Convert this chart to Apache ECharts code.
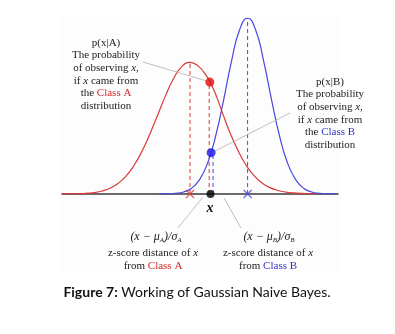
<!DOCTYPE html>
<html><head><meta charset="utf-8">
<script src="https://cdn.jsdelivr.net/npm/echarts@6/dist/echarts.min.js"></script>
<style>html,body{margin:0;padding:0;background:#fff;}#c{width:395px;height:334px;}</style>
</head><body><div id="c"></div>
<script>
// Class A curve p(x|A) samples
var redX = [-4,-3.75,-3.5,-3.25,-3,-2.75,-2.5,-2.25,-2,-1.75,-1.5,-1.25,-1,-0.75,-0.5,-0.25,0,0.25,0.5,0.75,1,1.25,1.5,1.75,2,2.25,2.5,2.75,3,3.25,3.5,3.75,4];
var redY = [0.0003,0.0007,0.0016,0.0038,0.0083,0.0171,0.0328,0.0595,0.1012,0.1618,0.2429,0.3424,0.4537,0.5646,0.6601,0.725,0.748,0.728,0.675,0.59,0.468,0.348,0.247,0.165,0.104,0.063,0.036,0.02,0.011,0.006,0.003,0.0012,0.0005];
// Class B curve p(x|B) samples
var blueX = [-0.95,-0.7,-0.45,-0.2,0.05,0.3,0.55,0.8,1.05,1.3,1.55,1.8,2.05,2.3,2.55,2.8,3.05,3.3,3.55,3.8,4.05,4.3,4.55];
var blueY = [0.0002,0.001,0.0036,0.0116,0.033,0.0816,0.175,0.328,0.534,0.757,0.933,1.0,0.933,0.757,0.534,0.328,0.175,0.0816,0.033,0.0116,0.0036,0.001,0.0002];
// key points
var meanA = 0, peakA = 0.748;
var meanB = 1.8, peakB = 1.0;
var xObs = 0.64;
var pA = [0.62, 0.636];   // red dot
var pB = [0.66, 0.235];   // blue dot
var dashA = 0.6, dashB = 0.72;

function pairs(xs, ys){ return xs.map(function(x,i){return [x, ys[i]];}); }

var RED = '#d93a34', BLUE = '#4848e0';
var serif = '"Liberation Serif", "DejaVu Serif", serif';
var cross = 'path://M0,0L10,10M10,0L0,10';

var chart = echarts.init(document.getElementById('c'), null, {renderer:'canvas'});

function t(text, x, y, extra){
  var st = {text:text, x:x, y:y, font:'11px ' + serif, fill:'#222', align:'center', verticalAlign:'middle'};
  for (var k in extra) st[k] = extra[k];
  return {type:'text', z:10, style:st};
}
function ln(x1,y1,x2,y2){
  return {type:'line', z:5, shape:{x1:x1,y1:y1,x2:x2,y2:y2}, style:{stroke:'#b0b0b0', lineWidth:0.8}};
}
var richA = {r:{fill:'#d42a2a', font:'11px ' + serif}, b:{fill:'#3333c8', font:'11px ' + serif}};
var it = {rich:{i:{font:'italic 11px '+serif}}};

chart.setOption({
  animation:false,
  grid:{left:62, right:57, top:18, bottom:140},
  xAxis:{type:'value', min:-4, max:4.625, axisLine:{show:true, onZero:false, lineStyle:{color:'#3a3a3a', width:1.5}},
         axisTick:{show:false}, axisLabel:{show:false}, splitLine:{show:false}},
  yAxis:{type:'value', min:0, max:1, show:false, splitLine:{show:false}},
  graphic:[
    {type:'rect', z:-10, shape:{x:60, y:18, width:281, height:255}, style:{fill:'#fdfdfd'}},
    t('p(x|A)', 106, 43),
    t('The probability', 106, 55.5),
    t('of observing {i|x},', 106, 68, it),
    t('if {i|x} came from', 106, 81, it),
    t('the {r|Class A}', 106, 93.5, {rich:richA}),
    t('distribution', 106, 106),
    t('p(x|B)', 330, 82),
    t('The probability', 330, 94.5),
    t('of observing {i|x},', 330, 107, it),
    t('if {i|x} came from', 330, 120, it),
    t('the {b|Class B}', 330, 132.5, {rich:richA}),
    t('distribution', 330, 145),
    t('(x − μ{s|A})/σ{s|A}', 156, 237, {font:'italic 12px '+serif, rich:{s:{font:'italic 7px '+serif, verticalAlign:'bottom', padding:[6,0,0,0]}}}),
    t('z-score distance of {i|x}', 153, 253.5, it),
    t('from {r|Class A}', 153, 266.5, {rich:richA}),
    t('(x − μ{s|B})/σ{s|B}', 269, 237, {font:'italic 12px '+serif, rich:{s:{font:'italic 7px '+serif, verticalAlign:'bottom', padding:[6,0,0,0]}}}),
    t('z-score distance of {i|x}', 268, 253.5, it),
    t('from {b|Class B}', 268, 266.5, {rich:richA}),
    t('x', 210, 208, {font:'italic bold 14px '+serif, fill:'#111'}),
    ln(143,62,207,81),
    ln(290,113,213,152),
    ln(203,197,178,228),
    ln(224,198,241,228),
    {type:'text', z:10, style:{text:'{b|Figure 7:} Working of Gaussian Naive Bayes.', x:197, y:292, align:'center', verticalAlign:'middle',
      font:'14px Lato, "Open Sans", sans-serif', fill:'#111',
      rich:{b:{font:'bold 14px Lato, "Open Sans", sans-serif', fill:'#111'}}}}
  ],
  series:[
    {type:'line', data:pairs(redX, redY), smooth:true, showSymbol:false, lineStyle:{color:RED, width:1.2}, z:3},
    {type:'line', data:pairs(blueX, blueY), smooth:true, showSymbol:false, lineStyle:{color:BLUE, width:1.2}, z:3},
    {type:'line', data:[[meanA,0],[meanA,peakA]], showSymbol:false, lineStyle:{color:RED, width:1, type:[4,3]}, z:2},
    {type:'line', data:[[dashA,0],[dashA,pA[1]]], showSymbol:false, lineStyle:{color:RED, width:1, type:[4,3]}, z:2},
    {type:'line', data:[[meanB,0],[meanB,peakB]], showSymbol:false, lineStyle:{color:BLUE, width:1, type:[4,3]}, z:2},
    {type:'line', data:[[dashB,0],[dashB,pB[1]]], showSymbol:false, lineStyle:{color:BLUE, width:1, type:[4,3]}, z:2},
    {type:'scatter', data:[[meanA,0]], symbol:cross, symbolSize:8, itemStyle:{color:'none', borderColor:RED, borderWidth:1.2}, z:6},
    {type:'scatter', data:[[meanB,0]], symbol:cross, symbolSize:8, itemStyle:{color:'none', borderColor:BLUE, borderWidth:1.2}, z:6},
    {type:'scatter', data:[pA], symbol:'circle', symbolSize:9, itemStyle:{color:'#e00a0a'}, z:6},
    {type:'scatter', data:[pB], symbol:'circle', symbolSize:9, itemStyle:{color:'#1818e6'}, z:6},
    {type:'scatter', data:[[xObs,0]], symbol:'circle', symbolSize:8, itemStyle:{color:'#000'}, z:6}
  ]
});
</script></body></html>
